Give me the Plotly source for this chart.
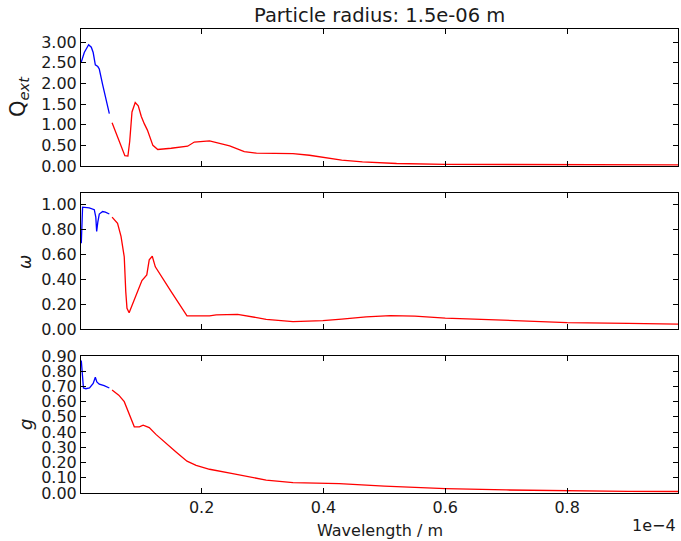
import plotly.graph_objects as go

# ---- data (wavelength in micrometres) ----
wl_q_short = [0.25, 0.74, 1.45, 1.89, 2.2, 2.55, 2.96, 3.2, 3.75, 4.3, 4.85]
q_short = [2.52, 2.75, 2.94, 2.88, 2.75, 2.45, 2.41, 2.35, 1.97, 1.63, 1.27]

wl_w_short = [0.25, 0.46, 1.56, 2.38, 2.63, 2.77, 2.96, 3.2, 3.75, 4.2, 4.85]
w_short = [0.69, 0.98, 0.975, 0.96, 0.90, 0.785, 0.86, 0.925, 0.945, 0.94, 0.925]

wl_g_short = [0.25, 0.6, 1.0, 1.6, 2.2, 2.55, 2.8, 3.2, 4.0, 4.85]
g_short = [0.87, 0.69, 0.685, 0.69, 0.72, 0.76, 0.73, 0.715, 0.705, 0.69]

wl_q_long = [5.3, 6.2, 7.0, 7.4, 7.9, 8.2, 8.57, 9.1, 9.6, 10.1, 10.6, 11.1, 12.0, 12.8, 15.0,
             17.7, 18.8, 21.3, 24.6, 27.0, 29.0, 35.0, 37.7, 41.0, 43.0, 46.4, 52.0, 60.0,
             70.0, 80.0, 90.0, 98.2]
q_long = [1.05, 0.71, 0.40, 0.25, 0.24, 0.60, 1.31, 1.54, 1.46, 1.20, 1.02, 0.87, 0.50, 0.40, 0.43,
          0.48, 0.58, 0.61, 0.49, 0.35, 0.31, 0.30, 0.26, 0.18, 0.14, 0.10, 0.06, 0.04,
          0.035, 0.03, 0.027, 0.025]

wl_w_long = [5.3, 6.2, 6.77, 7.1, 7.3, 7.55, 7.75, 8.1, 9.2, 10.2, 11.0, 11.4, 11.9, 12.4, 15.0,
             17.6, 21.3, 22.4, 25.9, 27.3, 30.6, 35.0, 39.9, 43.0, 47.0, 51.0, 55.0, 60.0,
             70.0, 80.0, 90.0, 98.2]
w_long = [0.90, 0.85, 0.745, 0.66, 0.58, 0.30, 0.167, 0.13, 0.26, 0.39, 0.435, 0.556, 0.585, 0.50, 0.30,
          0.105, 0.105, 0.113, 0.118, 0.105, 0.078, 0.059, 0.067, 0.08, 0.097, 0.107, 0.103, 0.088,
          0.068, 0.052, 0.045, 0.04]

wl_g_long = [5.3, 6.4, 7.3, 7.86, 8.4, 8.95, 9.78, 10.4, 11.4, 12.5, 15.8, 17.6, 19.1, 21.3, 25.1,
             30.6, 35.0, 42.6, 50.0, 60.0, 70.0, 80.0, 90.0, 98.2]
g_long = [0.676, 0.643, 0.60, 0.545, 0.48, 0.435, 0.435, 0.446, 0.43, 0.385, 0.27, 0.209, 0.182, 0.156, 0.128,
          0.084, 0.068, 0.062, 0.045, 0.029, 0.02, 0.013, 0.011, 0.01]

x_ticks = [0.2, 0.4, 0.6, 0.8]
title_text = "Particle radius: 1.5e-06 m"

def scale(wl):
    # micrometres -> units of 1e-4 m
    return [v * 1e-6 / 1e-4 for v in wl]

FONT = "DejaVu Sans"
fig = go.Figure()

series = [
    ("y", wl_q_short, q_short, wl_q_long, q_long),
    ("y2", wl_w_short, w_short, wl_w_long, w_long),
    ("y3", wl_g_short, g_short, wl_g_long, g_long),
]
xa = {"y": "x", "y2": "x2", "y3": "x3"}
for yref, ws, vs, wl, vl in series:
    fig.add_trace(go.Scatter(x=scale(ws), y=vs, mode="lines", line=dict(color="#0000ff", width=1.3),
                             xaxis=xa[yref], yaxis=yref, showlegend=False))
    fig.add_trace(go.Scatter(x=scale(wl), y=vl, mode="lines", line=dict(color="#ff0000", width=1.3),
                             xaxis=xa[yref], yaxis=yref, showlegend=False))

H_T, H_B = 29, 48
plot_h = 541 - H_T - H_B
def dom(top_px, bot_px):
    return [(541 - H_B - bot_px) / plot_h, (541 - H_B - top_px) / plot_h]

axis_common = dict(showline=True, linecolor="black", linewidth=1, mirror="ticks", ticks="inside",
                   ticklen=5, tickcolor="black", showgrid=False, zeroline=False,
                   tickfont=dict(family=FONT, size=16, color="#1a1a1a"))
xrange = [0.002, 0.982]
fig.update_layout(
    width=681, height=541,
    margin=dict(l=81, r=3, t=H_T, b=H_B),
    paper_bgcolor="white", plot_bgcolor="white",
    font=dict(family=FONT, color="#1a1a1a"),
    xaxis=dict(domain=[0, 1], anchor="y", range=xrange, tickvals=x_ticks, showticklabels=False, **axis_common),
    xaxis2=dict(domain=[0, 1], anchor="y2", range=xrange, tickvals=x_ticks, showticklabels=False, matches="x", **axis_common),
    xaxis3=dict(domain=[0, 1], anchor="y3", range=xrange, tickvals=x_ticks, tickformat=".1f", matches="x", **axis_common),
    yaxis=dict(domain=dom(29, 166), anchor="x", range=[0, 3.32], dtick=0.5, tickformat=".2f", **axis_common),
    yaxis2=dict(domain=dom(193, 329), anchor="x2", range=[0, 1.094], dtick=0.2, tickformat=".2f", **axis_common),
    yaxis3=dict(domain=dom(356, 493), anchor="x3", range=[0, 0.9], dtick=0.1, tickformat=".2f", **axis_common),
)

def py(p):
    return (541 - H_B - p) / plot_h
def px(p):
    return (p - 81) / (681 - 81 - 3)

ann = [
    dict(text=title_text, x=0.5, y=py(15), font=dict(size=19.5)),
    dict(text="Wavelength / m", x=0.5, y=py(530), font=dict(size=16)),
    dict(text="1e\u22124", x=1.0, xanchor="right", y=py(525), font=dict(size=16)),
    dict(text="Q<sub><i>ext</i></sub>", x=px(19), y=py(97), textangle=-90, font=dict(size=21)),
    dict(text="<i>\u03c9</i>", x=px(25), y=py(262), textangle=-90, font=dict(size=17)),
    dict(text="<i>g</i>", x=px(25), y=py(425), textangle=-90, font=dict(size=18)),
]
for a in ann:
    a.setdefault("xanchor", "center")
    fig.add_annotation(xref="paper", yref="paper", showarrow=False, yanchor="middle", **a)

fig.write_html("out.html")
